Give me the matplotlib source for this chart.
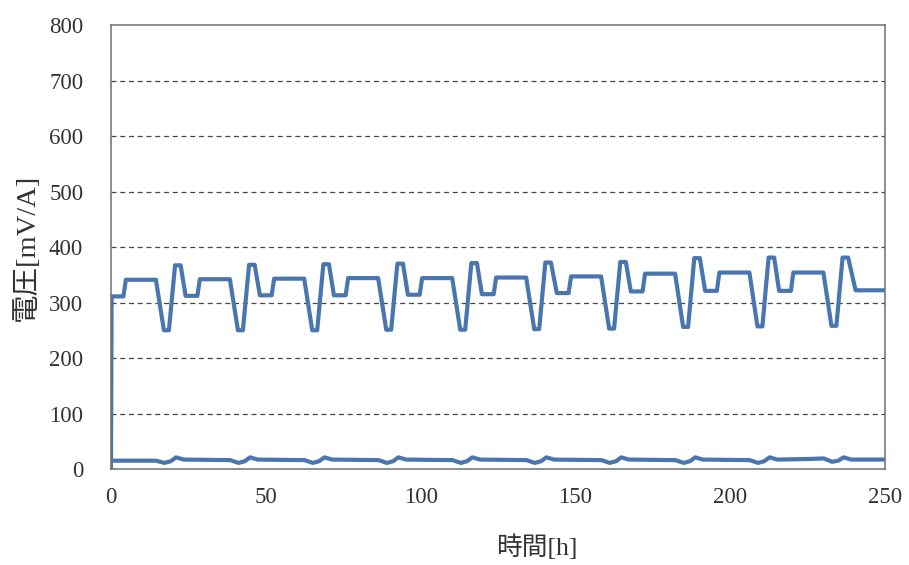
import matplotlib
matplotlib.use("Agg")
import matplotlib.pyplot as plt

# Upper series: time [h], voltage [mV/A]
t_upper = [0.0, 0.2, 4.0, 4.8, 14.5, 17.1, 18.7, 20.7, 22.5,
           24.1, 27.9, 28.7, 38.4, 41.0, 42.6, 44.6, 46.4,
           48.1, 51.9, 52.7, 62.4, 65.0, 66.6, 68.6, 70.4,
           72.0, 75.8, 76.6, 86.3, 88.9, 90.5, 92.5, 94.3,
           95.9, 99.7, 100.5, 110.2, 112.8, 114.4, 116.4, 118.2,
           119.8, 123.6, 124.4, 134.1, 136.7, 138.3, 140.3, 142.1,
           144.0, 147.8, 148.6, 158.3, 160.9, 162.5, 164.5, 166.3,
           167.9, 171.7, 172.5, 182.2, 184.8, 186.4, 188.4, 190.2,
           191.9, 195.7, 196.5, 206.2, 208.8, 210.4, 212.4, 214.2,
           215.8, 219.6, 220.4, 230.1, 232.7, 234.3, 236.3, 238.1,
           240.5, 250.0]
v_upper = [0, 311, 311, 341, 341, 250, 250, 367, 367,
           312, 312, 342, 342, 250, 250, 368, 368,
           313, 313, 343, 343, 250, 250, 369, 369,
           313, 313, 344, 344, 251, 251, 370, 370,
           314, 314, 344, 344, 251, 251, 371, 371,
           315, 315, 345, 345, 252, 252, 372, 372,
           317, 317, 347, 347, 253, 253, 373, 373,
           320, 320, 352, 352, 256, 256, 380, 380,
           321, 321, 354, 354, 257, 257, 381, 381,
           321, 321, 354, 354, 258, 258, 381, 381,
           322, 322]

# Lower series
t_lower = [0.0, 14.5, 17.3, 19.3, 21.0, 23.5,
           38.5, 41.2, 43.2, 44.9, 47.4,
           62.5, 65.2, 67.2, 68.9, 71.4,
           86.4, 89.1, 91.1, 92.8, 95.3,
           110.3, 113.0, 115.0, 116.7, 119.2,
           134.2, 136.9, 138.9, 140.6, 143.1,
           158.4, 161.1, 163.1, 164.8, 167.3,
           182.3, 185.0, 187.0, 188.7, 191.2,
           206.3, 209.0, 211.0, 212.7, 215.2,
           225.0, 230.2, 232.9, 234.9, 236.6, 239.1, 250.0]
v_lower = [15, 15, 11, 14, 21, 17,
           16, 11, 14, 21, 17,
           16, 11, 14, 21, 17,
           16, 11, 14, 21, 17,
           16, 11, 14, 21, 17,
           16, 11, 14, 21, 17,
           16, 11, 14, 21, 17,
           16, 11, 14, 21, 17,
           16, 11, 14, 21, 17,
           18, 19, 13, 15, 21, 17, 17]

x_ticks = [0, 50, 100, 150, 200, 250]
y_ticks = [0, 100, 200, 300, 400, 500, 600, 700, 800]
x_label = "時間[h]"
y_label = "電圧[mV/A]"

line_color = "#4A76B0"
fam = ["Liberation Serif", "Noto Sans CJK JP", "DejaVu Sans"]
plt.rcParams["font.family"] = fam

fig = plt.figure(figsize=(9.09, 5.65), dpi=100)
ax = fig.add_axes([0.1221, 0.1699, 0.8515, 0.7858])

ax.plot(t_upper, v_upper, color=line_color, lw=3.0, solid_joinstyle="round")
ax.plot(t_lower, v_lower, color=line_color, lw=3.0, solid_joinstyle="round")

ax.set_xlim(0, 250)
ax.set_ylim(0, 800)
ax.set_xticks(x_ticks)
ax.set_yticks(y_ticks)
ax.tick_params(axis="both", length=0, labelsize=16.5, colors="#333333")
ax.tick_params(axis="y", pad=20)
ax.tick_params(axis="x", pad=13)

for y in y_ticks[1:-1]:
    ax.axhline(y, color="#444444", lw=0.9, linestyle=(0, (4, 3)), zorder=0)

for s in ax.spines.values():
    s.set_color("#6f6f6f")
    s.set_linewidth(1.1)

ax.set_xlabel(x_label, fontsize=18.5, color="#333333")
ax.xaxis.set_label_coords(0.55, -0.148)
ax.set_ylabel(y_label, fontsize=20.5, color="#333333")
ax.yaxis.set_label_coords(-0.092, 0.5)

fig.savefig("out.png", dpi=100)
